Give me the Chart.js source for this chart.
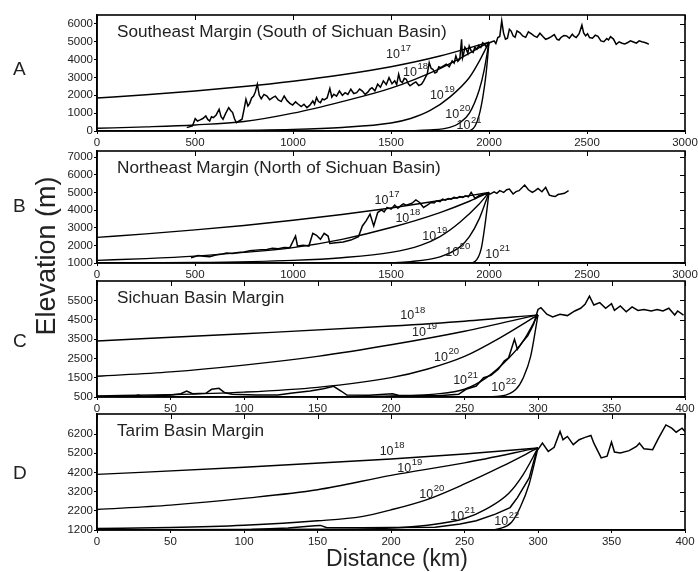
<!DOCTYPE html>
<html>
<head>
<meta charset="utf-8">
<script src="https://cdn.jsdelivr.net/npm/chart.js@4.4.1/dist/chart.umd.min.js"></script>
<style>
  body { margin: 0; background: #fff; width: 698px; height: 572px; position: relative; overflow: hidden;
         font-family: "Liberation Sans", Arial, Helvetica, sans-serif; color: #222; }
  canvas { position: absolute; left: 0; }
  .txt { position: absolute; white-space: nowrap; line-height: 1; }
</style>
</head>
<body>
<canvas id="pA" width="698" height="150" style="top:0px"></canvas>
<canvas id="pB" width="698" height="146" style="top:136px"></canvas>
<canvas id="pC" width="698" height="150" style="top:266px"></canvas>
<canvas id="pD" width="698" height="150" style="top:399px"></canvas>

<div class="txt" style="left:13px;top:59px;font-size:19px">A</div>
<div class="txt" style="left:13px;top:196px;font-size:19px">B</div>
<div class="txt" style="left:13px;top:331px;font-size:19px">C</div>
<div class="txt" style="left:13px;top:463px;font-size:19px">D</div>
<div class="txt" style="left:46px;top:256px;font-size:27px;transform:translate(-50%,-50%) rotate(-90deg)">Elevation (m)</div>
<div class="txt" style="left:397px;top:558px;font-size:23px;transform:translate(-50%,-50%)">Distance (km)</div>

<script>
// ---- Panel A: Southeast Margin ----
const xTicksA = [0, 500, 1000, 1500, 2000, 2500, 3000];
const yTicksA = [0, 1000, 2000, 3000, 4000, 5000, 6000];
const yRangeA = [0, 6500];
const c17Ax = [0, 250, 500, 750, 1000, 1250, 1500, 1750, 2000];
const c17Ay = [1850, 2030, 2240, 2490, 2790, 3150, 3600, 4200, 4980];
const c18Ax = [0, 250, 500, 750, 1000, 1250, 1500, 1750, 1850, 2000];
const c18Ay = [150, 230, 340, 530, 1000, 1650, 2400, 3500, 4050, 4980];
const c19Ax = [0, 500, 1000, 1250, 1500, 1600, 1700, 1800, 1900, 1950, 2000];
const c19Ay = [0, 20, 90, 200, 450, 700, 1150, 1900, 3000, 3900, 4980];
const c20Ax = [0, 1500, 1700, 1800, 1850, 1900, 1950, 1975, 2000];
const c20Ay = [0, 10, 60, 200, 450, 1000, 2300, 3400, 4980];
const c21Ax = [0, 1850, 1900, 1930, 1950, 1970, 1985, 2000];
const c21Ay = [0, 0, 20, 300, 900, 2000, 3200, 4980];
const profAx = [458, 487, 501, 513, 526, 540, 555, 565, 575, 584, 594, 608, 623, 633, 643, 657, 672, 682, 692, 701,
  711, 725, 740, 750, 760, 770, 779, 789, 799, 808, 818, 828, 838, 852, 867, 881, 896, 910, 925, 940,
  955, 970, 984, 998, 1013, 1027, 1042, 1056, 1071, 1086, 1101, 1110, 1120, 1130, 1140, 1150, 1159, 1174, 1188, 1198,
  1208, 1222, 1237, 1252, 1266, 1280, 1295, 1310, 1325, 1340, 1354, 1368, 1383, 1393, 1403, 1418, 1432, 1446, 1461, 1476,
  1490, 1505, 1519, 1529, 1539, 1548, 1558, 1568, 1578, 1588, 1597, 1612, 1627, 1642, 1656, 1666, 1675, 1685, 1695, 1705,
  1714, 1724, 1734, 1744, 1753, 1768, 1782, 1797, 1812, 1822, 1831, 1841, 1851, 1860, 1865, 1870, 1877, 1884, 1892, 1899,
  1909, 1919, 1928, 1938, 1948, 1958, 1968, 1977, 1987, 1997, 2026, 2035, 2045, 2055, 2065, 2074, 2084, 2094, 2104, 2113,
  2123, 2133, 2143, 2158, 2172, 2187, 2201, 2215, 2230, 2245, 2260, 2275, 2289, 2303, 2318, 2333, 2347, 2357, 2367, 2382,
  2396, 2410, 2425, 2435, 2445, 2460, 2474, 2483, 2493, 2503, 2513, 2528, 2542, 2556, 2571, 2586, 2601, 2610, 2620, 2635,
  2649, 2664, 2679, 2693, 2708, 2722, 2737, 2752, 2766, 2780, 2795, 2805, 2815];
const profAy = [190, 280, 690, 560, 620, 700, 840, 650, 560, 800, 750, 900, 1220, 800, 660, 1000, 1310, 1150, 1030, 700,
  470, 560, 660, 1200, 1780, 1400, 1550, 1850, 1960, 2200, 2620, 2000, 1810, 2050, 1960, 1750, 1870, 1950, 1740, 1650,
  1960, 1700, 1550, 1450, 1630, 1500, 1370, 1500, 1310, 1450, 1680, 1500, 1870, 1650, 1590, 1800, 1740, 1850, 2380, 1900,
  2060, 1950, 2240, 2000, 2150, 2050, 2340, 2100, 2150, 2350, 2240, 2050, 2190, 2350, 2430, 2250, 2620, 2450, 2810, 2600,
  2990, 2650, 2810, 2600, 3180, 2800, 2710, 2950, 2900, 2650, 2530, 2650, 2750, 2550, 2620, 2800, 2990, 3200, 3830, 3500,
  3460, 3250, 3310, 3600, 3550, 3650, 3740, 3600, 3930, 3800, 4210, 3900, 4020, 5140, 4100, 4300, 4700, 4580, 4350, 4770,
  4500, 4400, 4700, 4580, 4800, 4680, 4950, 4860, 4700, 4920, 5050, 4900, 5240, 5300, 6170, 5500, 5140, 5200, 5700, 5600,
  5330, 5250, 5610, 5500, 5330, 5250, 5550, 5450, 5330, 5250, 5480, 5300, 5140, 5200, 5290, 5400, 5140, 5100, 5240, 5350,
  5330, 5200, 5420, 5300, 5240, 5450, 5930, 5500, 5330, 5450, 5240, 5200, 5370, 5300, 5050, 5000, 5180, 5100, 5290, 5150,
  4860, 5000, 4920, 4880, 4960, 5050, 4990, 4920, 5050, 5000, 4960, 4920, 4860];
const labelsA = [[1510, 4300, '17'], [1597, 3270, '18'], [1734, 2000, '19'], [1812, 940, '20'], [1870, 280, '21']];

// ---- Panel B: Northeast Margin ----
const yTicksB = [1000, 2000, 3000, 4000, 5000, 6000, 7000];
const yRangeB = [1000, 7350];
const c17Bx = [0, 250, 500, 750, 1000, 1250, 1500, 1750, 2000];
const c17By = [2450, 2650, 2880, 3130, 3420, 3750, 4120, 4540, 5000];
const c18Bx = [0, 250, 500, 750, 1000, 1250, 1500, 1750, 1900, 2000];
const c18By = [1150, 1250, 1390, 1600, 1870, 2340, 3010, 3860, 4500, 5000];
const c19Bx = [0, 500, 1000, 1250, 1500, 1650, 1750, 1850, 1950, 2000];
const c19By = [1000, 1030, 1150, 1300, 1600, 2000, 2500, 3300, 4350, 5000];
const c20Bx = [0, 1400, 1600, 1750, 1850, 1900, 1950, 2000];
const c20By = [1000, 1010, 1080, 1350, 1900, 2500, 3500, 5000];
const c21Bx = [0, 1900, 1930, 1960, 1980, 2000];
const c21By = [1000, 1000, 1100, 1800, 3200, 5000];
const profBx = [480, 516, 545, 575, 605, 633, 660, 692, 720, 750, 780, 808, 840, 867, 895, 925, 955, 984, 1013, 1023,
  1052, 1081, 1101, 1120, 1140, 1159, 1179, 1188, 1218, 1256, 1295, 1334, 1354, 1373, 1393, 1412, 1432, 1451, 1465, 1480,
  1500, 1519, 1535, 1549, 1563, 1578, 1607, 1627, 1646, 1666, 1685, 1705, 1720, 1734, 1750, 1763, 1778, 1792, 1807, 1821,
  1836, 1851, 1866, 1880, 1895, 1909, 1929, 1948, 1977, 2006, 2026, 2040, 2055, 2075, 2090, 2104, 2123, 2138, 2153, 2182,
  2201, 2221, 2236, 2250, 2270, 2289, 2308, 2323, 2338, 2352, 2367, 2385, 2406];
const profBy = [1300, 1430, 1380, 1350, 1450, 1490, 1560, 1540, 1600, 1620, 1700, 1730, 1750, 1770, 1830, 1810, 1880, 1870, 2530, 1960,
  2000, 1960, 2680, 2570, 2340, 2680, 2530, 2110, 2150, 2190, 2300, 2490, 3100, 3390, 3770, 3100, 3860, 4010, 3900, 4150,
  4050, 4280, 4100, 4240, 4350, 4280, 4390, 4580, 4430, 4150, 4280, 4430, 4400, 4530, 4480, 4620, 4560, 4660, 4620, 4720,
  4680, 4770, 4720, 4810, 4750, 5000, 4660, 4810, 4910, 4910, 5040, 4950, 5100, 5000, 5150, 5190, 4910, 5050, 5100, 5420,
  5150, 5000, 5100, 5230, 5040, 5290, 4850, 4800, 4770, 4880, 4910, 4950, 5100];
const labelsB = [[1451, 4530, '17'], [1558, 3520, '18'], [1695, 2490, '19'], [1812, 1620, '20'], [2016, 1490, '21']];

// ---- Panel C: Sichuan Basin Margin ----
const xTicksC = [0, 50, 100, 150, 200, 250, 300, 350, 400];
const yTicksC = [500, 1500, 2500, 3500, 4500, 5500];
const yRangeC = [500, 6500];
const c18Cx = [0, 100, 200, 250, 300];
const c18Cy = [3400, 3770, 4170, 4420, 4750];
const c19Cx = [0, 50, 100, 150, 200, 250, 300];
const c19Cy = [1570, 1800, 2150, 2600, 3200, 3900, 4750];
const c20Cx = [0, 50, 100, 150, 200, 225, 250, 275, 300];
const c20Cy = [560, 620, 750, 1000, 1500, 1950, 2600, 3600, 4750];
const c21Cx = [0, 150, 200, 230, 250, 265, 280, 290, 300];
const c21Cy = [500, 510, 550, 650, 900, 1500, 2500, 3400, 4750];
const c22Cx = [0, 260, 275, 285, 290, 295, 300];
const c22Cy = [500, 500, 550, 900, 1500, 2600, 4750];
const profCx = [0, 25, 28, 31, 50, 57, 61, 65, 74, 78, 83, 87, 92, 108, 123, 133, 145, 154, 161, 166,
  170, 185, 201, 205, 232, 246, 251, 258, 263, 268, 273, 277, 280, 284, 286, 290, 293, 297, 300, 302,
  306, 310, 315, 320, 325, 329, 332, 335, 338, 342, 346, 350, 352, 356, 360, 364, 368, 372, 377, 381,
  385, 389, 393, 395, 399];
const profCy = [530, 530, 600, 530, 600, 670, 810, 670, 690, 900, 950, 720, 640, 600, 600, 710, 810, 930, 1050, 810,
  600, 590, 670, 590, 570, 640, 900, 1070, 1500, 1620, 1930, 2360, 2530, 3480, 2970, 3400, 3660, 4260, 5030, 5120,
  4780, 4640, 4780, 4710, 4950, 5090, 5290, 5720, 5260, 5380, 5090, 5330, 4980, 5210, 4910, 5160, 4980, 5030, 4950, 5030,
  4950, 5090, 4740, 4950, 4740];
const labelsC = [[211, 4690, '18'], [219, 3830, '19'], [234, 2530, '20'], [247, 1330, '21'], [273, 980, '22']];

// ---- Panel D: Tarim Basin Margin ----
const yTicksD = [1200, 2200, 3200, 4200, 5200, 6200];
const yRangeD = [1200, 7250];
const c18Dx = [0, 100, 200, 250, 300];
const c18Dy = [4100, 4470, 4900, 5160, 5480];
const c19Dx = [0, 50, 100, 150, 200, 250, 300];
const c19Dy = [2270, 2500, 2850, 3300, 4050, 4700, 5480];
const c20Dx = [0, 50, 100, 150, 180, 200, 225, 250, 275, 300];
const c20Dy = [1280, 1330, 1450, 1680, 1900, 2250, 2800, 3600, 4500, 5480];
const c21Dx = [0, 150, 200, 225, 250, 265, 280, 290, 300];
const c21Dy = [1220, 1240, 1300, 1450, 1800, 2300, 3100, 4100, 5480];
const c22Dx = [0, 265, 275, 282, 288, 294, 300];
const c22Dy = [1200, 1200, 1300, 1600, 2400, 3600, 5480];
const profDx = [105, 130, 148, 152, 156, 180, 200, 230, 247, 258, 271, 281, 286, 294, 299, 301, 303, 307, 311, 315,
  317, 320, 324, 328, 332, 336, 338, 343, 347, 350, 352, 356, 362, 367, 369, 372, 378, 382, 387, 391,
  394, 398, 400];
const profDy = [1230, 1300, 1420, 1440, 1330, 1320, 1330, 1340, 1510, 1680, 2030, 2370, 2890, 3920, 5300, 5510, 5730, 5300, 5510, 6340,
  5910, 6080, 5650, 5910, 6030, 6130, 5730, 4960, 5050, 5790, 5270, 5220, 5340, 5560, 5730, 5440, 5390, 5990, 6680, 6510,
  6300, 6510, 6340];
const labelsD = [[197, 5300, '18'], [209, 4410, '19'], [224, 3060, '20'], [245, 1890, '21'], [275, 1650, '22']];

const FONT = '"Liberation Sans", Arial, Helvetica, sans-serif';
Chart.defaults.font.family = FONT;
Chart.defaults.color = '#222';

function pts(xs, ys) {
  return xs.map((x, i) => ({ x: x, y: ys[i] }));
}

// frame, inner ticks on top/right, panel title and 10^n labels
const boxPlugin = {
  id: 'box',
  afterDraw(chart, args, opts) {
    const { ctx, chartArea: a, scales } = chart;
    ctx.save();
    ctx.strokeStyle = '#000';
    ctx.lineWidth = 1;
    scales.y.ticks.forEach(t => {
      const y = Math.round(scales.y.getPixelForValue(t.value)) + 0.5;
      ctx.beginPath(); ctx.moveTo(a.right - 5, y); ctx.lineTo(a.right, y); ctx.stroke();
    });
    scales.x.ticks.forEach(t => {
      const x = Math.round(scales.x.getPixelForValue(t.value)) + 0.5;
      ctx.beginPath(); ctx.moveTo(x, a.top); ctx.lineTo(x, a.top + 5); ctx.stroke();
    });
    ctx.lineWidth = 1.6;
    ctx.strokeRect(a.left, a.top, a.right - a.left, a.bottom - a.top);

    ctx.fillStyle = '#222';
    ctx.textBaseline = 'middle';
    ctx.textAlign = 'left';
    ctx.font = '17.2px ' + FONT;
    ctx.fillText(opts.title, a.left + 20, a.top + 17);

    opts.labels.forEach(l => {
      const x = scales.x.getPixelForValue(l[0]);
      const y = scales.y.getPixelForValue(l[1]);
      ctx.font = '12.5px ' + FONT;
      ctx.textAlign = 'center';
      ctx.fillText('10', x, y);
      const w = ctx.measureText('10').width;
      ctx.font = '9.5px ' + FONT;
      ctx.textAlign = 'left';
      ctx.fillText(l[2], x + w / 2 + 0.5, y - 6);
    });
    ctx.restore();
  }
};

function makePanel(id, xMax, xTicks, yRange, yTicks, curves, prof, title, labels) {
  const datasets = curves.map(c => ({
    data: pts(c[0], c[1]), borderColor: '#000', borderWidth: 1.4,
    pointRadius: 0, cubicInterpolationMode: 'monotone', fill: false
  }));
  datasets.push({ data: pts(prof[0], prof[1]), borderColor: '#000', borderWidth: 1.5, pointRadius: 0, tension: 0, fill: false });

  const axisCommon = {
    grid: { display: true, drawOnChartArea: false, tickLength: 3, color: '#000', lineWidth: 1 },
    border: { display: true, color: '#000', width: 1.6 }
  };

  new Chart(document.getElementById(id), {
    type: 'line',
    data: { datasets: datasets },
    options: {
      responsive: false,
      animation: false,
      devicePixelRatio: 1,
      layout: { padding: { top: 15, right: 13, left: 0, bottom: 0 } },
      plugins: {
        legend: { display: false },
        tooltip: { enabled: false },
        box: { title: title, labels: labels }
      },
      scales: {
        x: Object.assign({}, axisCommon, {
          type: 'linear', min: 0, max: xMax,
          afterBuildTicks: s => { s.ticks = xTicks.map(v => ({ value: v })); },
          afterFit: s => { s.height = 19; s.paddingLeft = 0; s.paddingRight = 0; },
          ticks: { font: { size: 11.5 }, color: '#222', padding: 2, maxRotation: 0, autoSkip: false,
                   callback: v => String(v) }
        }),
        y: Object.assign({}, axisCommon, {
          type: 'linear', min: yRange[0], max: yRange[1],
          afterBuildTicks: s => { s.ticks = yTicks.map(v => ({ value: v })); },
          afterFit: s => { s.width = 97; s.paddingTop = 0; s.paddingBottom = 0; },
          ticks: { font: { size: 11.5 }, color: '#222', padding: 1, autoSkip: false,
                   callback: v => String(v) }
        })
      }
    },
    plugins: [boxPlugin]
  });
}

makePanel('pA', 3000, xTicksA, yRangeA, yTicksA,
  [[c17Ax, c17Ay], [c18Ax, c18Ay], [c19Ax, c19Ay], [c20Ax, c20Ay], [c21Ax, c21Ay]],
  [profAx, profAy], 'Southeast Margin (South of Sichuan Basin)', labelsA);
makePanel('pB', 3000, xTicksA, yRangeB, yTicksB,
  [[c17Bx, c17By], [c18Bx, c18By], [c19Bx, c19By], [c20Bx, c20By], [c21Bx, c21By]],
  [profBx, profBy], 'Northeast Margin (North of Sichuan Basin)', labelsB);
makePanel('pC', 400, xTicksC, yRangeC, yTicksC,
  [[c18Cx, c18Cy], [c19Cx, c19Cy], [c20Cx, c20Cy], [c21Cx, c21Cy], [c22Cx, c22Cy]],
  [profCx, profCy], 'Sichuan Basin Margin', labelsC);
makePanel('pD', 400, xTicksC, yRangeD, yTicksD,
  [[c18Dx, c18Dy], [c19Dx, c19Dy], [c20Dx, c20Dy], [c21Dx, c21Dy], [c22Dx, c22Dy]],
  [profDx, profDy], 'Tarim Basin Margin', labelsD);
</script>
</body>
</html>
